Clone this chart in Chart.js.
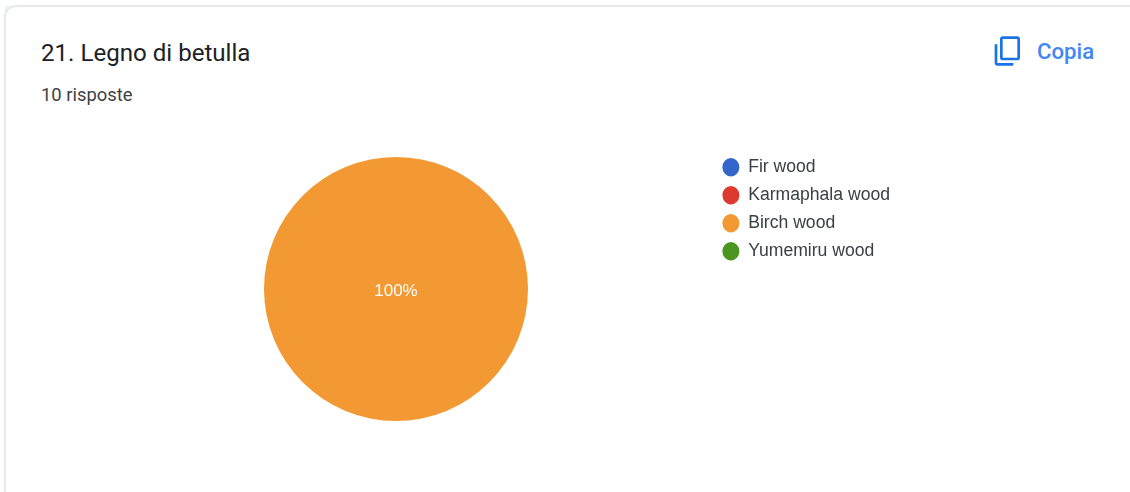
<!DOCTYPE html>
<html lang="it">
<head>
<meta charset="utf-8">
<title>21. Legno di betulla</title>
<script src="https://cdn.jsdelivr.net/npm/chart.js@4/dist/chart.umd.js"></script>
<style>
  html, body { margin: 0; padding: 0; width: 1130px; height: 492px; overflow: hidden; background: #fff; }
  .corner { position: absolute; left: 5px; top: 6px; width: 10px; height: 10px; background: #e4f4f6; }
  .card { position: absolute; left: 4px; top: 5px; width: 1300px; height: 700px; box-sizing: border-box;
          border: 2px solid #e8e9f0; border-radius: 12px; background: #fff; }
  .title { position: absolute; left: 41px; top: 39px; font: 400 24.1px/28px Roboto, sans-serif; color: #202124; white-space: nowrap; }
  .count { position: absolute; left: 41px; top: 84px; font: 400 18.4px/22px Roboto, sans-serif; color: #3c4043; white-space: nowrap; }
  .copy-label { position: absolute; left: 1037px; top: 38px; font: 500 22.2px/26px Roboto, sans-serif; color: #4285f4; white-space: nowrap; }
  .copy-icon { position: absolute; left: 992px; top: 35px; width: 32px; height: 32px; fill: #1a73e8; transform: scaleY(-1); }
  .chart-box { position: absolute; left: 80px; top: 148px; width: 820px; height: 282px; }
</style>
</head>
<body>
<div class="corner"></div>
<div class="card"></div>
<div class="title">21. Legno di betulla</div>
<div class="count">10 risposte</div>
<svg class="copy-icon" viewBox="0 0 24 24"><path d="M16 1H4c-1.1 0-2 .9-2 2v14h2V3h12V1zm3 4H8c-1.1 0-2 .9-2 2v14c0 1.1.9 2 2 2h11c1.1 0 2-.9 2-2V7c0-1.1-.9-2-2-2zm0 16H8V7h11v14z"/></svg>
<div class="copy-label">Copia</div>
<div class="chart-box"><canvas id="pie"></canvas></div>
<script>
const categories = ["Fir wood", "Karmaphala wood", "Birch wood", "Yumemiru wood"];
const responses = [0, 0, 10, 0];
const sliceColors = ["#3366cc", "#dd3a2e", "#f39933", "#4a9620"];

// Writes each non-empty slice's share on top of the pie.
const percentLabels = {
  id: "percentLabels",
  afterDatasetsDraw(chart) {
    const { ctx } = chart;
    const total = responses.reduce((a, b) => a + b, 0);
    chart.getDatasetMeta(0).data.forEach((arc, i) => {
      if (!responses[i]) return;
      const share = responses[i] / total;
      const pos = share === 1 ? { x: arc.x, y: arc.y } : arc.tooltipPosition();
      ctx.save();
      ctx.fillStyle = "#ffffff";
      ctx.font = "17px 'Liberation Sans', Arial, sans-serif";
      ctx.textAlign = "center";
      ctx.textBaseline = "middle";
      ctx.fillText(Math.round(share * 100) + "%", pos.x, pos.y + 2);
      ctx.restore();
    });
  }
};

new Chart(document.getElementById("pie"), {
  type: "pie",
  data: {
    labels: categories,
    datasets: [{ data: responses, backgroundColor: sliceColors, borderWidth: 0, radius: 132, rotation: 0 }]
  },
  options: {
    responsive: true,
    maintainAspectRatio: false,
    animation: false,
    layout: { padding: 0 },
    plugins: {
      tooltip: { enabled: false },
      legend: {
        position: "right",
        align: "start",
        labels: {
          usePointStyle: true,
          pointStyle: "circle",
          pointStyleWidth: 17,
          boxHeight: 13,
          padding: 10.4,
          color: "#3c4043",
          font: { family: "'Liberation Sans', Arial, sans-serif", size: 17.6 }
        }
      }
    }
  },
  plugins: [percentLabels]
});
</script>
</body>
</html>
